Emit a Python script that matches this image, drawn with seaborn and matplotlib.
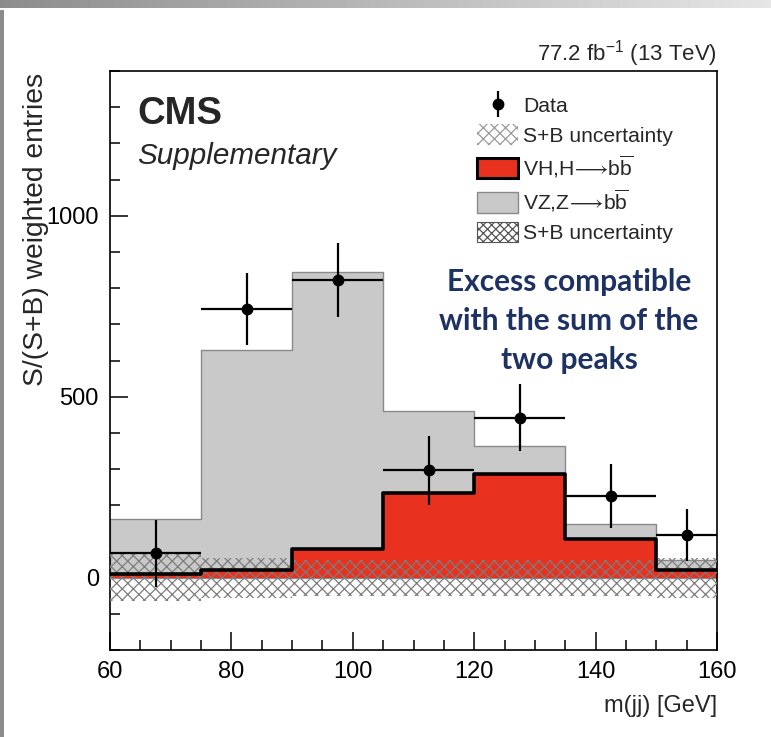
import numpy as np
import pandas as pd
import matplotlib
matplotlib.use("Agg")
import matplotlib.pyplot as plt
from matplotlib.patches import Patch, Rectangle
from matplotlib.lines import Line2D
from matplotlib.ticker import MultipleLocator
import seaborn as sns

# ---- binned values -------------------------------------------------------
bin_edges = [60, 75, 90, 105, 120, 135, 150, 160]
vh_signal = [11, 20, 78, 233, 286, 108, 20]          # VH, H->bb
vz_total = [163, 630, 845, 461, 364, 147, 48]         # VZ stacked on VH
band_unc = [65, 55, 50, 50, 50, 50, 55]               # S+B uncertainty half-width
data_vals = [67, 742, 822, 297, 442, 225, 119]
data_errs = [92, 100, 102, 95, 93, 88, 72]

x_ticks = [60, 80, 100, 120, 140, 160]
y_ticks = [0, 500, 1000]

edges = np.array(bin_edges, dtype=float)
centers = 0.5 * (edges[:-1] + edges[1:])
halfw = 0.5 * np.diff(edges)
hist_df = pd.DataFrame({"mjj": centers, "vh": vh_signal, "stack": vz_total})

RED = "#e8311f"
GREY = "#c9c9c9"
HATCH = "#7d7d7d"
NAVY = "#1d3263"

sns.set_theme(style="ticks")
plt.rcParams["font.family"] = ["Liberation Sans", "DejaVu Sans"]
plt.rcParams["mathtext.fontset"] = "custom"
plt.rcParams["mathtext.rm"] = "Liberation Sans"
plt.rcParams["mathtext.it"] = "Liberation Sans:italic"
plt.rcParams["mathtext.fallback"] = "stixsans"
plt.rcParams["hatch.linewidth"] = 0.9

W, H = 771, 737
fig = plt.figure(figsize=(W / 100, H / 100), dpi=100)
fig.patch.set_facecolor("white")
ax = fig.add_axes([110 / W, 1 - 650 / H, (717 - 110) / W, (650 - 71) / H])

# stacked VZ (grey) then VH (red)
sns.histplot(data=hist_df, x="mjj", weights="stack", bins=bin_edges, element="step",
             fill=True, color=GREY, alpha=1, edgecolor="#8a8a8a", linewidth=1.0, ax=ax)
sns.histplot(data=hist_df, x="mjj", weights="vh", bins=bin_edges, element="step",
             fill=True, color=RED, alpha=1, linewidth=0, ax=ax)

# uncertainty band around zero
unc = np.array(band_unc, dtype=float)
ax.fill_between(edges, np.append(-unc, -unc[-1]), np.append(unc, unc[-1]),
                step="post", facecolor="none", edgecolor=HATCH, hatch="xxx",
                linewidth=0, zorder=3)

# VH outline
sns.histplot(data=hist_df, x="mjj", weights="vh", bins=bin_edges, element="step",
             fill=False, color="black", linewidth=2.6, ax=ax, zorder=4)

# data points
ax.errorbar(centers, data_vals, xerr=halfw, yerr=data_errs, fmt="o", color="black",
            ms=7.5, elinewidth=1.6, capsize=0, zorder=5)

ax.set_xlim(60, 160)
ax.set_ylim(-200, 1400)
ax.set_xticks(x_ticks)
ax.set_yticks(y_ticks)
ax.xaxis.set_minor_locator(MultipleLocator(5))
ax.yaxis.set_minor_locator(MultipleLocator(100))
ax.tick_params(axis="both", which="both", direction="in", top=False, right=False,
               labelsize=17, colors="black", pad=8)
ax.tick_params(which="major", length=13, width=1.1)
ax.tick_params(which="minor", length=7, width=1.1)
for s in ax.spines.values():
    s.set_visible(True)
    s.set_linewidth(1.2)
    s.set_color("black")
ax.set_xlabel("")
ax.set_ylabel("")

fig.text(717 / W, 1 - 706 / H, "m(jj) [GeV]", ha="right", va="center", fontsize=17)
fig.text(36 / W, 1 - 73 / H, "S/(S+B) weighted entries", rotation=90,
         ha="center", va="top", fontsize=20.3)
fig.text(717 / W, 1 - 54 / H, r"77.2 fb$^{-1}$ (13 TeV)", ha="right", va="center",
         fontsize=16)

ax.text(137 / W, 1 - 114 / H, "CMS", transform=fig.transFigure, fontsize=27.5,
        fontweight="bold", va="center", ha="left")
ax.text(137 / W, 1 - 156 / H, "Supplementary", transform=fig.transFigure,
        fontsize=21.3, style="italic", va="center", ha="left")

ax.text(569 / W, 1 - 321 / H, "Excess compatible\nwith the sum of the\ntwo peaks",
        transform=fig.transFigure, ha="center", va="center", fontsize=21.5,
        fontweight="bold", color=NAVY, family=["Lato", "DejaVu Sans"],
        linespacing=1.48)

# legend
h_data = (Line2D([], [], color="black", marker="|", ms=19, mew=1.6, ls="none"),
          Line2D([], [], color="black", marker="o", ms=7.5, ls="none"))
h_light = Patch(facecolor="white", edgecolor="#9a9a9a", hatch="xxx", linewidth=0)
h_vh = Patch(facecolor=RED, edgecolor="black", linewidth=2.2)
h_vz = Patch(facecolor=GREY, edgecolor="#8a8a8a", linewidth=1.0)
h_dark = Patch(facecolor="white", edgecolor="#555555", hatch="xxxx", linewidth=0.8)
leg = ax.legend([h_data, h_light, h_vh, h_vz, h_dark],
                ["Data", "S+B uncertainty",
                 r"VH,H$\!{\longrightarrow}\!$b$\overline{\mathrm{b}}$",
                 r"VZ,Z$\!{\longrightarrow}\!$b$\overline{\mathrm{b}}$", "S+B uncertainty"],
                loc="upper left", bbox_to_anchor=(477 / W, 1 - 95 / H),
                bbox_transform=fig.transFigure, frameon=False, fontsize=15.2,
                handlelength=1.95, handleheight=1.1, handletextpad=0.25,
                labelspacing=0.38, borderpad=0, borderaxespad=0)

# page decorations: grey header strip and left edge bar
grad = np.linspace(0.55, 0.9, 256)[None, :]
hdr = fig.add_axes([0, 1 - 8 / H, 1, 8 / H])
hdr.imshow(grad, cmap="gray", vmin=0, vmax=1, aspect="auto", extent=(0, 1, 0, 1))
hdr.set_axis_off()
fig.patches.append(Rectangle((0, 0), 4 / W, 1 - 10 / H, transform=fig.transFigure,
                             facecolor="#8c8c8c", edgecolor="none"))

fig.savefig("out.png", dpi=100)
